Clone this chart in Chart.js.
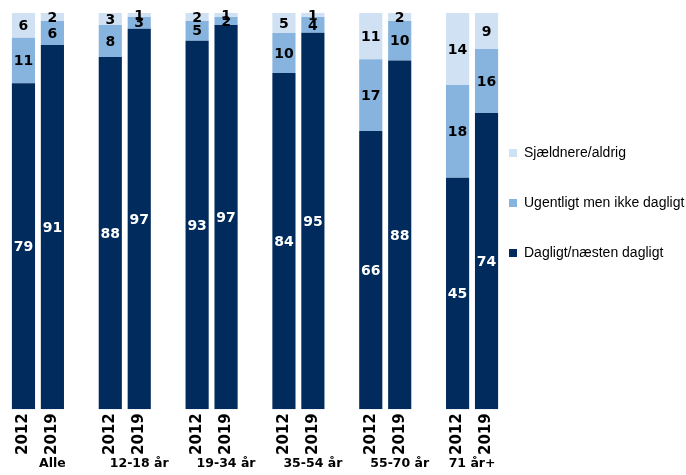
<!DOCTYPE html>
<html>
<head>
<meta charset="utf-8">
<script src="https://cdn.jsdelivr.net/npm/chart.js@4.4.1/dist/chart.umd.min.js"></script>
<style>
  body { margin: 0; background: #fff; }
  #wrap { width: 686px; height: 475px; }
</style>
</head>
<body>
<div id="wrap"><canvas id="myChart"></canvas></div>
<script>
var groups = ['Alle', '12-18 år', '19-34 år', '35-54 år', '55-70 år', '71 år+'];
var years = ['2012', '2019'];

// values per bar: Alle 2012, Alle 2019, 12-18 2012, ...
var dagligt = [79, 91, 88, 97, 93, 97, 84, 95, 66, 88, 45, 74];
var ugentligt = [11, 6, 8, 3, 5, 2, 10, 4, 17, 10, 18, 16];
var sjaeldnere = [6, 2, 3, 1, 2, 1, 5, 1, 11, 2, 14, 9];

var seriesNames = ['Dagligt/næsten dagligt', 'Ugentligt men ikke dagligt', 'Sjældnere/aldrig'];
var seriesColors = ['#002b5c', '#86b4de', '#cfe1f3'];
var labelColors = ['#ffffff', '#000000', '#000000'];

// build slots: 2 bars per group + one empty slot between groups
var labels = [];
var barIndex = [];
groups.forEach(function (g, gi) {
    years.forEach(function (y, yi) {
        labels.push(y);
        barIndex.push(gi * 2 + yi);
    });
    if (gi < groups.length - 1) {
        labels.push('');
        barIndex.push(null);
    }
});

var raw = [dagligt, ugentligt, sjaeldnere];

function slotData(values, asShare) {
    return barIndex.map(function (b) {
        if (b === null) return null;
        if (!asShare) return values[b];
        var total = dagligt[b] + ugentligt[b] + sjaeldnere[b];
        return values[b] / total * 100;
    });
}

var datasets = raw.map(function (vals, i) {
    return {
        label: seriesNames[i],
        data: slotData(vals, true),
        rawValues: slotData(vals, false),
        backgroundColor: seriesColors[i],
        borderWidth: 0,
        barPercentage: 0.8,
        categoryPercentage: 1.0
    };
});

// legend takes less room so the plot runs close to it
var legendPlace = {
    id: 'legendPlace',
    beforeInit: function (chart) {
        var fit = chart.legend.fit;
        chart.legend.fit = function () {
            fit.call(this);
            this.width = 185;
        };
    },
    afterLayout: function (chart) {
        var lg = chart.legend;
        lg.left = lg.left - 28;
        lg.top = lg.top - 33;
        lg.bottom = lg.bottom - 33;
    }
};

var valueLabels = {
    id: 'valueLabels',
    afterDatasetsDraw: function (chart) {
        var ctx = chart.ctx;
        ctx.save();
        ctx.font = 'bold 14px "DejaVu Sans"';
        ctx.textAlign = 'center';
        ctx.textBaseline = 'middle';
        chart.data.datasets.forEach(function (ds, di) {
            var meta = chart.getDatasetMeta(di);
            meta.data.forEach(function (bar, i) {
                var v = ds.rawValues[i];
                if (v === null || v === undefined) return;
                ctx.fillStyle = labelColors[di];
                ctx.fillText(String(v), bar.x, (bar.y + bar.base) / 2 + 1);
            });
        });

        // group names under the year labels
        var xScale = chart.scales.x;
        ctx.fillStyle = '#000';
        ctx.font = 'bold 12.5px "DejaVu Sans"';
        groups.forEach(function (g, gi) {
            var first = gi * 3;
            var x;
            if (gi < groups.length - 1) {
                x = xScale.getPixelForValue(first + 1);
            } else {
                x = (xScale.getPixelForValue(first) + xScale.getPixelForValue(first + 1)) / 2;
            }
            ctx.fillText(g, x, 464);
        });
        ctx.restore();
    }
};

new Chart(document.getElementById('myChart'), {
    type: 'bar',
    data: {
        labels: labels,
        datasets: datasets
    },
    options: {
        responsive: true,
        maintainAspectRatio: false,
        devicePixelRatio: 1,
        animation: false,
        layout: {
            padding: { left: 9, top: 13, right: 0, bottom: 16 }
        },
        plugins: {
            legend: {
                position: 'right',
                reverse: true,
                labels: {
                    boxWidth: 8,
                    boxHeight: 8,
                    padding: 36,
                    color: '#000',
                    font: { family: '"Liberation Sans"', size: 14 }
                }
            },
            tooltip: { enabled: false }
        },
        scales: {
            x: {
                stacked: true,
                grid: { display: false, drawTicks: false },
                border: { display: false },
                ticks: {
                    autoSkip: false,
                    maxRotation: 90,
                    minRotation: 90,
                    padding: 4,
                    color: '#000',
                    font: { family: '"DejaVu Sans"', size: 15, weight: 'bold' }
                }
            },
            y: {
                stacked: true,
                display: false,
                min: 0,
                max: 100
            }
        }
    },
    plugins: [legendPlace, valueLabels]
});
</script>
</body>
</html>
